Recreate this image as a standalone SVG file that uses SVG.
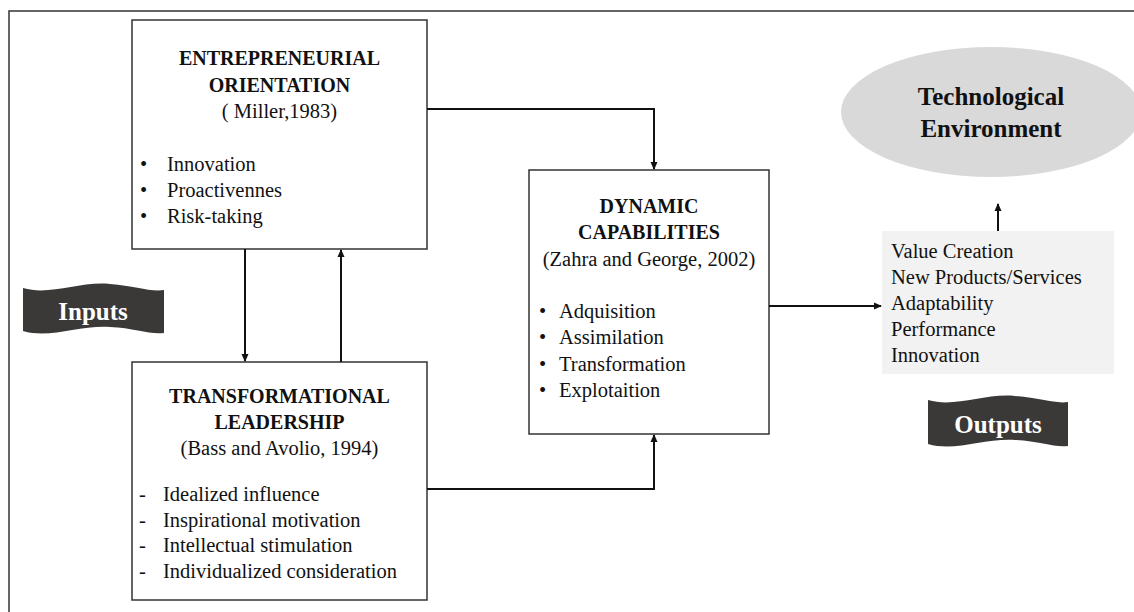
<svg xmlns="http://www.w3.org/2000/svg" width="1134" height="612" viewBox="0 0 1134 612">
  <style>
    text { font-family: "Liberation Serif", "Times New Roman", serif; fill: #111; }
    .title { font-size: 20px; font-weight: bold; text-anchor: middle; }
    .sub { font-size: 20.5px; text-anchor: middle; }
    .item { font-size: 20.5px; }
    .box { fill: #fff; stroke: #333; stroke-width: 1.5; }
    .conn { fill: none; stroke: #111; stroke-width: 2; }
    .banner { fill: #3b3838; }
    .btext { font-size: 25px; font-weight: bold; fill: #fff; text-anchor: middle; }
  </style>
  <defs>
    <marker id="arrow" viewBox="0 0 8 8" refX="7" refY="4" markerWidth="8" markerHeight="8" markerUnits="userSpaceOnUse" orient="auto">
      <path d="M0,0.5 L8,4 L0,7.5 Z" fill="#111"/>
    </marker>
  </defs>

  <rect x="0" y="0" width="1134" height="612" fill="#fff"/>
  <rect id="frame" x="9" y="11" width="1140" height="620" fill="none" stroke="#333" stroke-width="1.5"/>

  <g id="tech-env">
    <ellipse cx="991" cy="112" rx="150" ry="65" fill="#d9d9d9"/>
    <text x="991" y="105" style="font-size:25px;font-weight:bold;text-anchor:middle">Technological</text>
    <text x="991" y="137" style="font-size:25px;font-weight:bold;text-anchor:middle">Environment</text>
  </g>

  <g id="entrepreneurial-orientation">
    <rect class="box" x="132" y="20" width="295" height="229"/>
    <text class="title" x="279.5" y="65">ENTREPRENEURIAL</text>
    <text class="title" x="279.5" y="92">ORIENTATION</text>
    <text class="sub" x="279.5" y="118">( Miller,1983)</text>
    <text class="item" x="140" y="171">•</text>
    <text class="item" x="167" y="171">Innovation</text>
    <text class="item" x="140" y="197">•</text>
    <text class="item" x="167" y="197">Proactivennes</text>
    <text class="item" x="140" y="223">•</text>
    <text class="item" x="167" y="223">Risk-taking</text>
  </g>

  <g id="transformational-leadership">
    <rect class="box" x="132" y="362" width="295" height="238"/>
    <text class="title" x="279.5" y="403">TRANSFORMATIONAL</text>
    <text class="title" x="279.5" y="429">LEADERSHIP</text>
    <text class="sub" x="279.5" y="455">(Bass and Avolio, 1994)</text>
    <text class="item" x="139" y="501">-</text>
    <text class="item" x="163" y="501">Idealized influence</text>
    <text class="item" x="139" y="527">-</text>
    <text class="item" x="163" y="527">Inspirational motivation</text>
    <text class="item" x="139" y="552">-</text>
    <text class="item" x="163" y="552">Intellectual stimulation</text>
    <text class="item" x="139" y="578">-</text>
    <text class="item" x="163" y="578">Individualized consideration</text>
  </g>

  <g id="dynamic-capabilities">
    <rect class="box" x="529" y="170" width="240" height="264"/>
    <text class="title" x="649" y="213">DYNAMIC</text>
    <text class="title" x="649" y="239">CAPABILITIES</text>
    <text class="sub" x="649" y="266">(Zahra and George, 2002)</text>
    <text class="item" x="539" y="318">•</text>
    <text class="item" x="559" y="318">Adquisition</text>
    <text class="item" x="539" y="344">•</text>
    <text class="item" x="559" y="344">Assimilation</text>
    <text class="item" x="539" y="371">•</text>
    <text class="item" x="559" y="371">Transformation</text>
    <text class="item" x="539" y="397">•</text>
    <text class="item" x="559" y="397">Explotaition</text>
  </g>

  <g id="outcomes">
    <rect x="882" y="231" width="232" height="143" fill="#f2f2f2"/>
    <text class="item" x="891" y="258">Value Creation</text>
    <text class="item" x="891" y="284">New Products/Services</text>
    <text class="item" x="891" y="310">Adaptability</text>
    <text class="item" x="891" y="336">Performance</text>
    <text class="item" x="891" y="362">Innovation</text>
  </g>

  <g id="inputs-banner">
    <path class="banner" d="M23,288 C50,296 80,281 110,284 C135,286 150,292 164,290 L164,333 C150,335 135,328 110,327 C80,325 50,339 23,331 Z"/>
    <text class="btext" x="93" y="320">Inputs</text>
  </g>

  <g id="outputs-banner">
    <path class="banner" d="M928,400 C955,408 985,393 1015,396 C1040,398 1055,404 1068,402 L1068,446 C1055,448 1040,441 1015,440 C985,438 955,452 928,444 Z"/>
    <text class="btext" x="998" y="433">Outputs</text>
  </g>

  <g id="connectors">
    <path class="conn" d="M427,109 L654,109 L654,169" marker-end="url(#arrow)"/>
    <path class="conn" d="M427,489 L654,489 L654,435" marker-end="url(#arrow)"/>
    <path class="conn" d="M245,249 L245,361" marker-end="url(#arrow)"/>
    <path class="conn" d="M341,362 L341,250" marker-end="url(#arrow)"/>
    <path class="conn" d="M769,306 L881,306" marker-end="url(#arrow)"/>
    <path class="conn" d="M998,231 L998,204" marker-end="url(#arrow)"/>
  </g>
</svg>
